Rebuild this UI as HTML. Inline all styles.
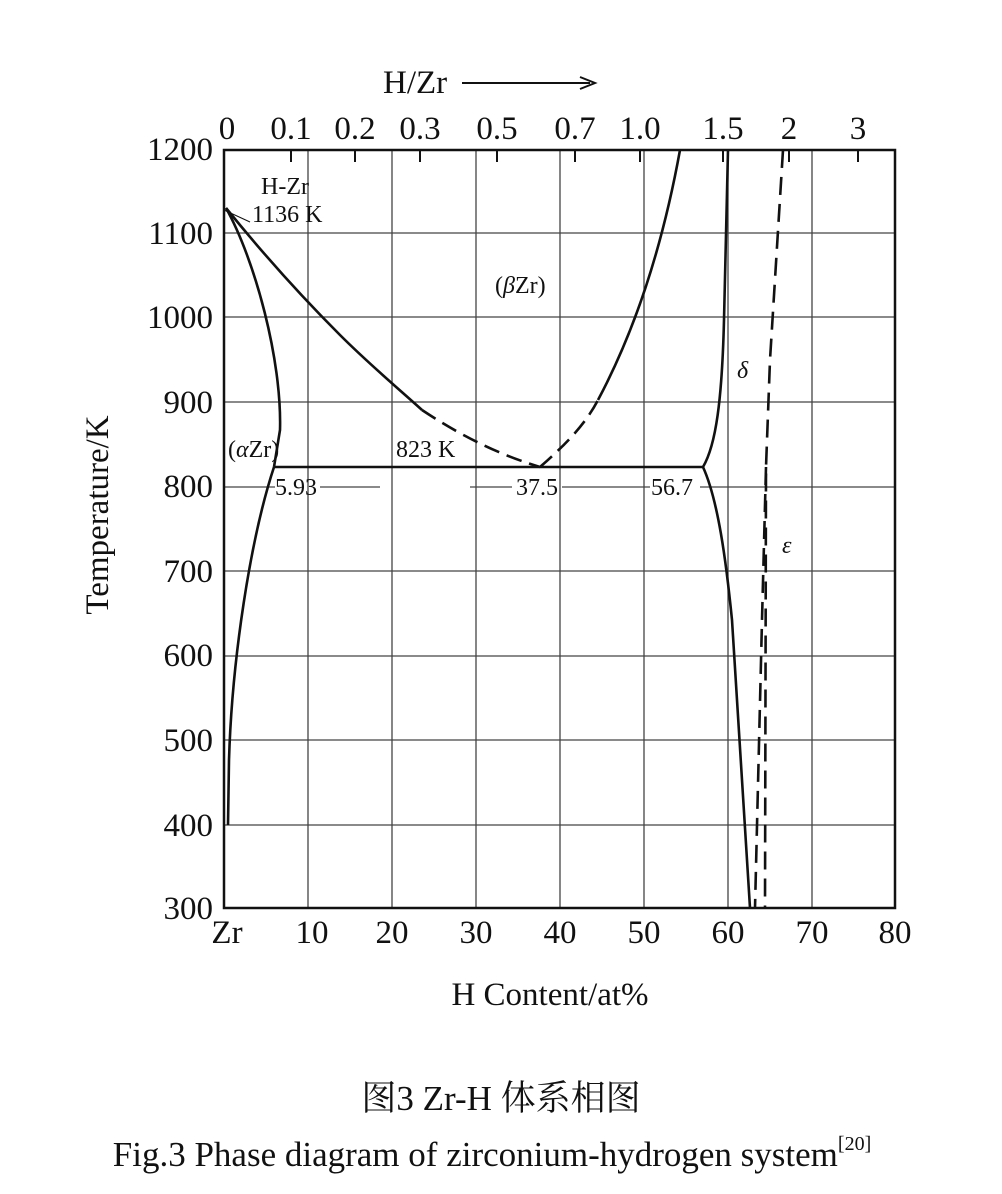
<!DOCTYPE html>
<html><head><meta charset="utf-8"><style>
body{margin:0;background:#fff}
svg text{font-family:"Liberation Serif","Noto Serif CJK SC",serif;fill:#111}
</style></head><body>
<svg width="1002" height="1189" viewBox="0 0 1002 1189" xmlns="http://www.w3.org/2000/svg">
<g stroke="#444" stroke-width="1.3" fill="none">
<line x1="308" y1="150" x2="308" y2="908"/><line x1="392" y1="150" x2="392" y2="908"/>
<line x1="476" y1="150" x2="476" y2="908"/><line x1="560" y1="150" x2="560" y2="908"/>
<line x1="644" y1="150" x2="644" y2="908"/><line x1="728" y1="150" x2="728" y2="908"/>
<line x1="812" y1="150" x2="812" y2="908"/>
<line x1="224" y1="233" x2="895" y2="233"/><line x1="224" y1="317" x2="895" y2="317"/>
<line x1="224" y1="402" x2="895" y2="402"/><line x1="224" y1="571" x2="895" y2="571"/>
<line x1="224" y1="656" x2="895" y2="656"/><line x1="224" y1="740" x2="895" y2="740"/>
<line x1="224" y1="825" x2="895" y2="825"/>
<line x1="224" y1="487" x2="275" y2="487"/><line x1="320" y1="487" x2="380" y2="487"/>
<line x1="470" y1="487" x2="512" y2="487"/><line x1="562" y1="487" x2="650" y2="487"/>
<line x1="700" y1="487" x2="895" y2="487"/>
</g>
<rect x="224" y="150" width="671" height="758" fill="none" stroke="#111" stroke-width="2.5"/>
<g stroke="#111" stroke-width="2">
<line x1="291" y1="150" x2="291" y2="162"/><line x1="355" y1="150" x2="355" y2="162"/>
<line x1="420" y1="150" x2="420" y2="162"/><line x1="497" y1="150" x2="497" y2="162"/>
<line x1="575" y1="150" x2="575" y2="162"/><line x1="640" y1="150" x2="640" y2="162"/>
<line x1="723" y1="150" x2="723" y2="162"/><line x1="789" y1="150" x2="789" y2="162"/>
<line x1="858" y1="150" x2="858" y2="162"/>
</g>
<g stroke="#111" stroke-width="2.6" fill="none">
<path d="M226,208 C255,260 282,360 280,430 L274,467"/>
<path d="M226,208 C260,250 300,295 340,335 C370,365 400,390 422,410"/>
<path d="M422,410 C470,442 510,458 540,467" stroke-dasharray="16,8"/>
<path d="M274,467 C250,540 232,660 229,760 L228,825"/>
<path d="M540,467 C565,445 585,425 598,400" stroke-dasharray="16,8"/>
<path d="M598,400 C630,340 660,260 680,150"/>
<line x1="274" y1="467" x2="703" y2="467"/>
<path d="M703,467 C716,445 722,400 724,320 L728,150"/>
<path d="M703,467 C718,500 726,560 732,620 L750,908"/>
<path d="M783,150 L770,360 L766,467 L765,908" stroke-dasharray="18,9"/>
<path d="M766,467 L762,620 L755,908" stroke-dasharray="18,9"/>
<line x1="224" y1="210" x2="250" y2="222" stroke-width="1"/>
</g>
<g font-size="33" text-anchor="end">
<text x="213" y="160">1200</text><text x="213" y="244">1100</text><text x="213" y="328">1000</text>
<text x="213" y="413">900</text><text x="213" y="497">800</text><text x="213" y="582">700</text>
<text x="213" y="666">600</text><text x="213" y="751">500</text><text x="213" y="836">400</text>
<text x="213" y="919">300</text>
</g>
<g font-size="33" text-anchor="middle">
<text x="227" y="943">Zr</text><text x="312" y="943">10</text><text x="392" y="943">20</text>
<text x="476" y="943">30</text><text x="560" y="943">40</text><text x="644" y="943">50</text>
<text x="728" y="943">60</text><text x="812" y="943">70</text><text x="895" y="943">80</text>
<text x="227" y="139">0</text><text x="291" y="139">0.1</text><text x="355" y="139">0.2</text>
<text x="420" y="139">0.3</text><text x="497" y="139">0.5</text><text x="575" y="139">0.7</text>
<text x="640" y="139">1.0</text><text x="723" y="139">1.5</text><text x="789" y="139">2</text>
<text x="858" y="139">3</text>
<text x="550" y="1005">H Content/at%</text>
<text x="501" y="1110" font-size="35">图3  Zr-H 体系相图</text>
<text x="492" y="1166" font-size="35">Fig.3  Phase diagram of zirconium-hydrogen system<tspan font-size="20" dy="-16">[20]</tspan></text>
</g>
<text x="383" y="93" font-size="33">H/Zr</text>
<line x1="462" y1="83" x2="590" y2="83" stroke="#111" stroke-width="2"/>
<path d="M580,77 L595,83 L580,89" fill="none" stroke="#111" stroke-width="2"/>
<text transform="translate(108,515) rotate(-90)" font-size="33" text-anchor="middle">Temperature/K</text>
<g font-size="24">
<text x="261" y="194">H-Zr</text><text x="252" y="222">1136 K</text>
<text x="495" y="293">(<tspan font-style="italic">β</tspan>Zr)</text>
<text x="228" y="457">(<tspan font-style="italic">α</tspan>Zr)</text>
<text x="396" y="457">823 K</text>
<text x="275" y="495">5.93</text><text x="516" y="495">37.5</text><text x="651" y="495">56.7</text>
<text x="737" y="378" font-style="italic">δ</text><text x="782" y="553" font-style="italic">ε</text>
</g>
</svg>
</body></html>
